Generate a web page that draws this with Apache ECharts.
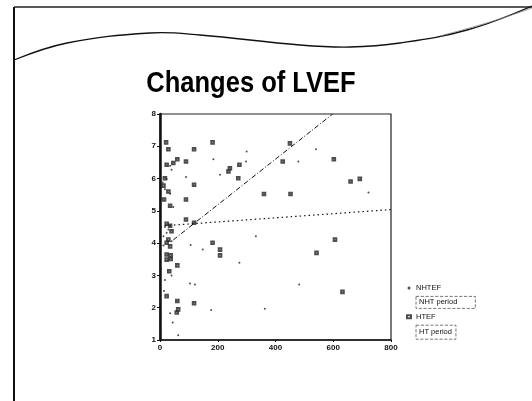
<!DOCTYPE html>
<html>
<head>
<meta charset="utf-8">
<script src="https://cdn.jsdelivr.net/npm/echarts@6/dist/echarts.min.js"></script>
<style>html,body{margin:0;padding:0;background:#fff}#c{width:532px;height:401px}</style>
</head>
<body>
<div id="c"></div>
<script>
var titleText = 'Changes of LVEF';
var xTicks = [0, 200, 400, 600, 800];
var yTicks = [1, 2, 3, 4, 5, 6, 7, 8];

var nhtefPoints = [
  [300,6.84],[540,6.91],[185,6.6],[298,6.53],[479,6.53],[90,6.05],[722,5.57],
  [332,4.21],[106,3.94],[148,3.8],[275,3.39],[104,2.75],[121,2.72],[482,2.72],
  [177,1.93],[363,1.97],[44,1.54],[63,1.15],[17,2.86],[14,2.52],[35,1.83],
  [40,3.0],[12,4.21],[29,4.42],[17,4.5],[23,4.32],[9,5.88],[17,5.67],[35,5.53],
  [23,5.99],[40,6.27],[35,6.4],[208,6.12],[46,5.12],[12,3.93],[40,4.06],
  [3,6.0],[3,5.2],[4,4.5],[3,3.8],[4,3.2],[2,2.2],[3,1.7],[2,1.3]
];
var htefPoints = [
  [21,7.12],[29,6.91],[118,6.91],[182,7.12],[450,7.09],[60,6.6],[46,6.48],[23,6.43],
  [90,6.53],[275,6.43],[242,6.32],[237,6.22],[271,6.01],[425,6.53],[602,6.6],
  [17,6.01],[12,5.78],[29,5.6],[118,5.81],[660,5.91],[692,5.99],[360,5.52],[452,5.52],
  [14,5.35],[90,5.35],[35,5.16],[90,4.73],[118,4.63],[23,4.6],[35,4.54],[40,4.37],
  [29,4.11],[23,4.01],[35,3.9],[182,4.01],[208,3.8],[208,3.62],[606,4.11],[542,3.7],
  [23,3.65],[37,3.62],[23,3.49],[37,3.51],[60,3.31],[32,3.13],[23,2.36],[632,2.49],
  [60,2.21],[118,2.14],[58,1.85],[63,1.95]
];
var nhtPeriodLine = [[46,4.1],[598,8]];
var htPeriodLine = [[17,4.54],[800,5.04]];

var chart = echarts.init(document.getElementById('c'));
var font = 'Liberation Sans';
chart.setOption({
  animation: false,
  backgroundColor: '#fff',
  graphic: [
    {type:'line', shape:{x1:14,y1:7,x2:14,y2:401}, style:{stroke:'#111', lineWidth:2}},
    {type:'line', shape:{x1:14,y1:7,x2:532,y2:7}, style:{stroke:'#222', lineWidth:1.5}},
    {type:'polyline', shape:{points:[[14,60],[67,43],[150,33],[200,35],[300,45],[350,47],[400,43],[467,30],[532,6]], smooth:0.4}, style:{stroke:'#111', lineWidth:1.3, fill:null}},
    {type:'polyline', shape:{points:[[440,36],[490,22],[532,8]], smooth:0.4}, style:{stroke:'#888', lineWidth:0.8, fill:null}},
    {type:'text', x:251, y:84, scaleX:0.88, originX:0, originY:0,
     style:{text:titleText, font:'bold 29px "Liberation Sans"', fill:'#000', textAlign:'center', textVerticalAlign:'middle'}}
  ],
  grid: {left:160, top:114, width:231, height:226, show:true, borderColor:'#222', borderWidth:1.2, backgroundColor:'transparent'},
  legend: {
    orient:'vertical', left:401, top:279, itemWidth:4, itemHeight:3, itemGap:4,
    textStyle:{fontSize:7.5, color:'#111', fontFamily:font},
    data:[
      {name:'NHTEF', icon:'circle'},
      {name:'NHT period', icon:'none', textStyle:{borderColor:'#555', borderWidth:0.8, borderType:'dashed', padding:[2,18,2,3]}},
      {name:'HTEF', icon:'emptyRect'},
      {name:'HT period', icon:'none', textStyle:{borderColor:'#555', borderWidth:0.8, borderType:'dashed', padding:[3,4,3,3]}}
    ]
  },
  xAxis: {
    type:'value', min:0, max:800, interval:200,
    axisLine:{show:true, lineStyle:{color:'#111', width:1.5}},
    axisTick:{show:true, length:2, lineStyle:{color:'#111'}},
    axisLabel:{fontSize:8, color:'#111', fontFamily:font, fontWeight:'bold', margin:4},
    splitLine:{show:false}
  },
  yAxis: {
    type:'value', min:1, max:8, interval:1,
    axisLine:{show:true, lineStyle:{color:'#111', width:2.5}},
    axisTick:{show:true, length:3, lineStyle:{color:'#111'}},
    axisLabel:{fontSize:8, color:'#111', fontFamily:font, fontWeight:'bold', margin:4},
    splitLine:{show:false}
  },
  series: [
    {name:'NHTEF', type:'scatter', data:nhtefPoints, symbol:'circle', symbolSize:2,
     itemStyle:{color:'#222'}},
    {name:'NHT period', type:'line', data:nhtPeriodLine, symbol:'none',
     lineStyle:{color:'#111', width:1, type:[5,2,1,2]}, itemStyle:{color:'#111'}},
    {name:'HTEF', type:'scatter', data:htefPoints, symbol:'emptyRect', symbolSize:2.6,
     itemStyle:{color:'#222', borderColor:'#222', borderWidth:0.8}},
    {name:'HT period', type:'line', data:htPeriodLine, symbol:'none',
     lineStyle:{color:'#111', width:1.2, type:[1.5,3]}, itemStyle:{color:'#111'}}
  ]
});
</script>
</body>
</html>
